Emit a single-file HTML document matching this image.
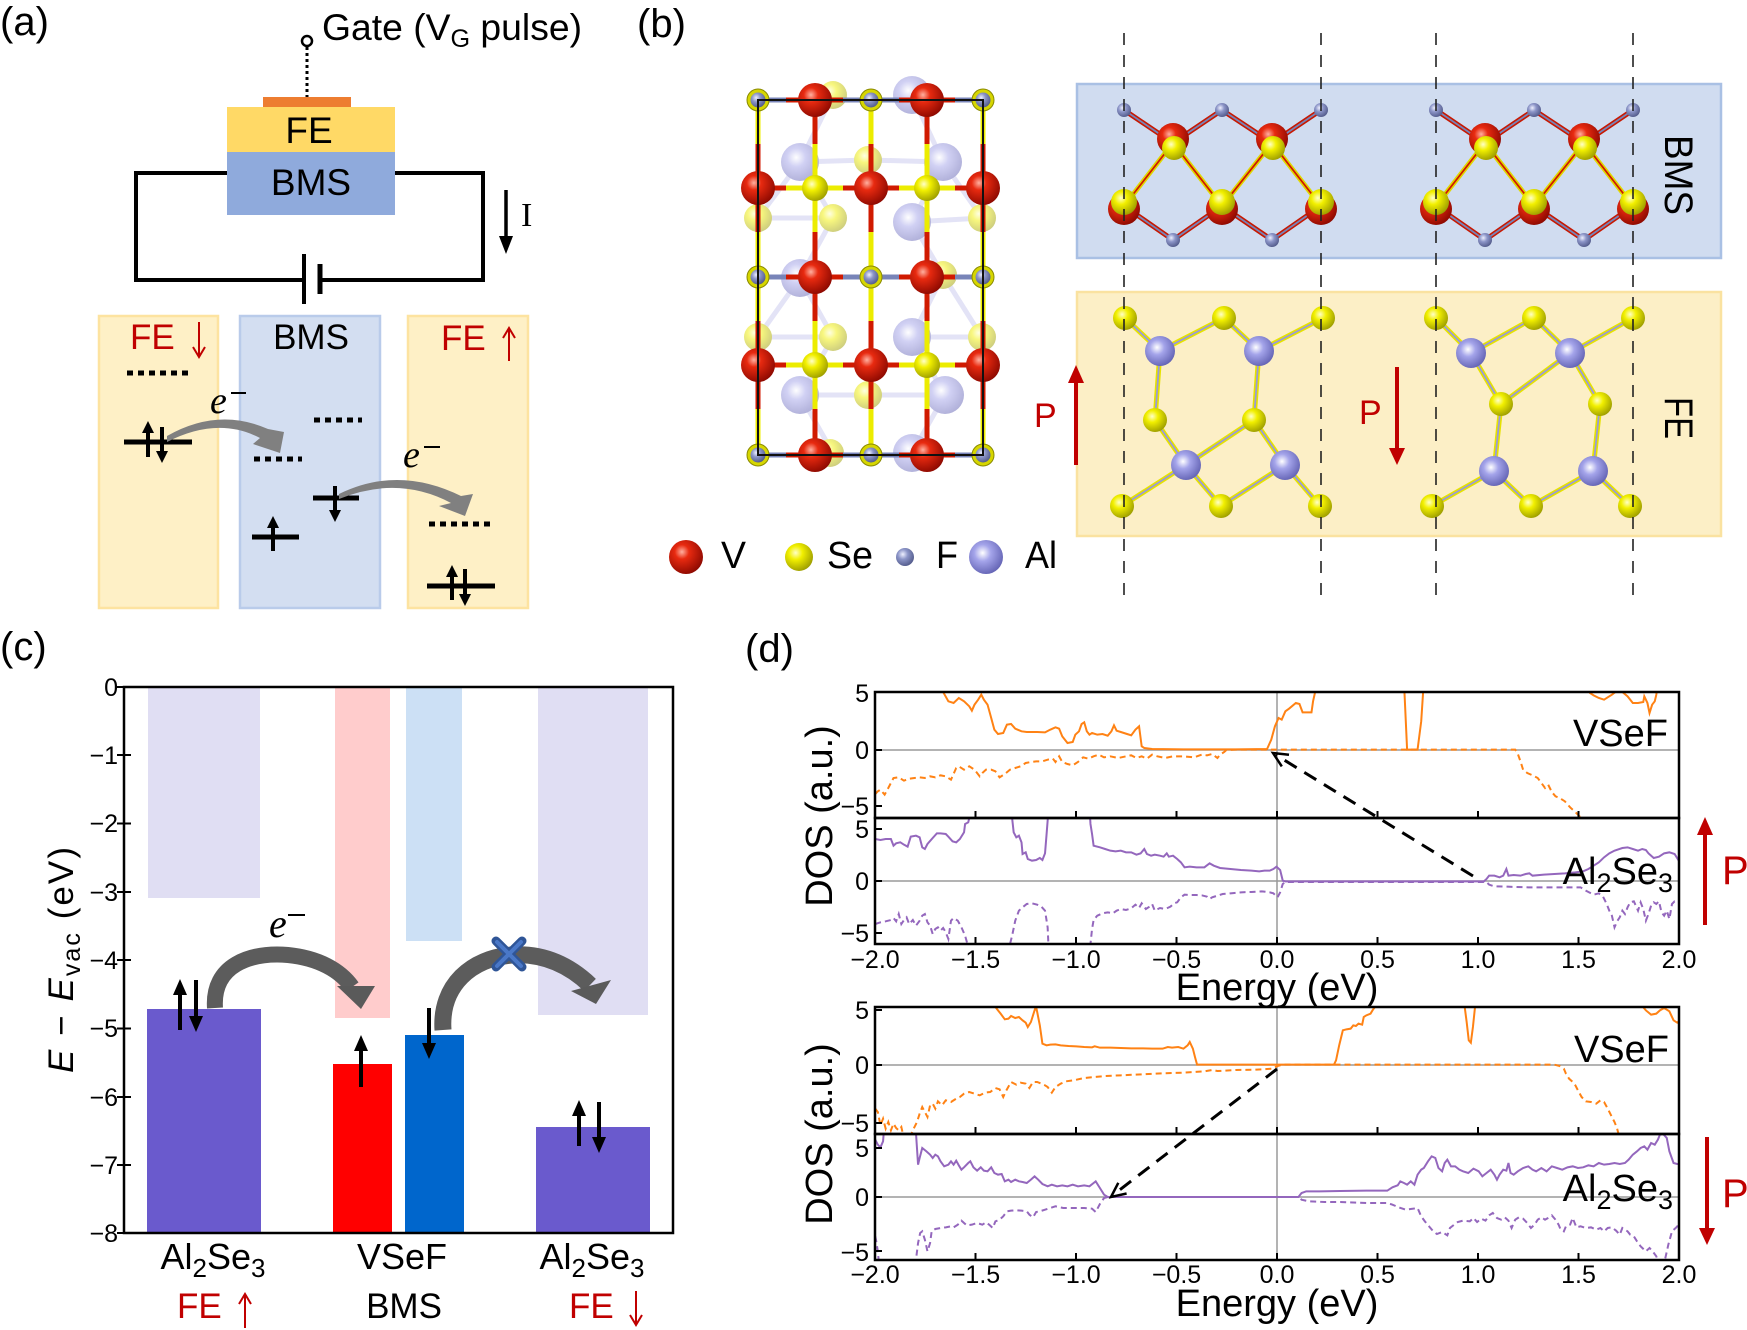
<!DOCTYPE html>
<html><head><meta charset="utf-8"><style>
html,body{margin:0;padding:0;background:#fff;}
svg{display:block;font-family:"Liberation Sans",Arial,sans-serif;}
</style></head><body>
<svg width="1747" height="1330" viewBox="0 0 1747 1330" xmlns="http://www.w3.org/2000/svg">
<defs>
<radialGradient id="gV" cx="0.38" cy="0.35" r="0.7"><stop offset="0" stop-color="#ffb0a0"/><stop offset="0.3" stop-color="#e82a10"/><stop offset="1" stop-color="#8a0800"/></radialGradient>
<radialGradient id="gSe" cx="0.38" cy="0.35" r="0.7"><stop offset="0" stop-color="#ffffc8"/><stop offset="0.35" stop-color="#f2f000"/><stop offset="1" stop-color="#9a9a00"/></radialGradient>
<radialGradient id="gF" cx="0.38" cy="0.35" r="0.7"><stop offset="0" stop-color="#eef0ff"/><stop offset="0.4" stop-color="#8c95c8"/><stop offset="1" stop-color="#505888"/></radialGradient>
<radialGradient id="gAl" cx="0.4" cy="0.38" r="0.7"><stop offset="0" stop-color="#ffffff"/><stop offset="0.35" stop-color="#a4a4ea"/><stop offset="1" stop-color="#5c5cae"/></radialGradient>
<clipPath id="c1"><rect x="875" y="692" width="804" height="126"/></clipPath>
<clipPath id="c2"><rect x="875" y="818" width="804" height="126"/></clipPath>
<clipPath id="c3"><rect x="875" y="1007" width="804" height="127"/></clipPath>
<clipPath id="c4"><rect x="875" y="1134" width="804" height="126"/></clipPath>
</defs>
<rect width="1747" height="1330" fill="#fff"/>

<!-- ================= PANEL A ================= -->
<text x="0" y="35" font-size="40">(a)</text>
<circle cx="307" cy="41" r="5" fill="#fff" stroke="#000" stroke-width="2.5"/>
<line x1="307" y1="47" x2="307" y2="97" stroke="#000" stroke-width="3" stroke-dasharray="3 3"/>
<text x="322" y="40" font-size="37" textLength="260" lengthAdjust="spacingAndGlyphs">Gate (V<tspan font-size="25" dy="7">G</tspan><tspan dy="-7"> pulse)</tspan></text>
<rect x="263" y="97" width="88" height="10" fill="#ED7D31"/>
<rect x="227" y="107" width="168" height="45" fill="#FFD966"/>
<rect x="227" y="152" width="168" height="63" fill="#8FAADC"/>
<text x="309" y="143" font-size="37" text-anchor="middle">FE</text>
<text x="311" y="195" font-size="37" text-anchor="middle">BMS</text>
<path d="M227,173 L136,173 L136,280 L304,280 M395,173 L483,173 L483,280 L320,280" fill="none" stroke="#000" stroke-width="4"/>
<line x1="304" y1="254" x2="304" y2="304" stroke="#000" stroke-width="4"/>
<line x1="320" y1="264" x2="320" y2="294" stroke="#000" stroke-width="5"/>
<line x1="506" y1="190" x2="506" y2="240" stroke="#000" stroke-width="3.5"/>
<polygon points="499,236 513,236 506,254" fill="#000"/>
<text x="521" y="226" font-size="34" font-family="Liberation Serif,serif">I</text>

<rect x="99" y="316" width="119" height="292" fill="#FEF0C6" stroke="#FDE3A0" stroke-width="2.5"/>
<rect x="240" y="316" width="140" height="292" fill="#D3DEF1" stroke="#B9CBEA" stroke-width="2.5"/>
<rect x="408" y="316" width="120" height="292" fill="#FEF0C6" stroke="#FDE3A0" stroke-width="2.5"/>
<text x="130" y="349" font-size="35" fill="#C00000">FE</text>
<line x1="199" y1="322" x2="199" y2="356" stroke="#C00000" stroke-width="2"/>
<polyline points="193,347 199,357 205,347" fill="none" stroke="#C00000" stroke-width="2"/>
<text x="311" y="349" font-size="35" text-anchor="middle">BMS</text>
<text x="441" y="350" font-size="35" fill="#C00000">FE</text>
<line x1="509" y1="328" x2="509" y2="361" stroke="#C00000" stroke-width="2"/>
<polyline points="503,338 509,328 515,338" fill="none" stroke="#C00000" stroke-width="2"/>

<g stroke="#000" stroke-width="5" stroke-dasharray="6 5" fill="none">
<line x1="127" y1="373" x2="193" y2="373"/>
<line x1="254" y1="459" x2="302" y2="459"/>
<line x1="314" y1="420" x2="362" y2="420"/>
<line x1="429" y1="524" x2="495" y2="524"/>
</g>
<g stroke="#000" stroke-width="5">
<line x1="124" y1="442" x2="192" y2="442"/>
<line x1="252" y1="537" x2="299" y2="537"/>
<line x1="313" y1="498" x2="359" y2="498"/>
<line x1="427" y1="586" x2="495" y2="586"/>
</g>
<g stroke="#000" stroke-width="4">
<line x1="148" y1="457" x2="148" y2="431"/><line x1="162" y1="427" x2="162" y2="453"/>
<line x1="273" y1="551" x2="273" y2="526"/><line x1="335" y1="486" x2="335" y2="512"/>
<line x1="452" y1="600" x2="452" y2="575"/><line x1="465" y1="569" x2="465" y2="596"/>
</g>
<g fill="#000">
<polygon points="142,433 154,433 148,421"/><polygon points="156,451 168,451 162,463"/>
<polygon points="267,528 279,528 273,516"/><polygon points="329,510 341,510 335,522"/>
<polygon points="446,577 458,577 452,565"/><polygon points="459,594 471,594 465,606"/>
</g>
<path d="M167,436 Q218,407 268,429 L284,432 L280,453 L253,444 L260,438 Q218,416 167,442 Z" fill="#808080"/>
<path d="M339,494 Q398,465 461,496 L473,494 L465,516 L439,506 L451,503 Q398,475 339,499 Z" fill="#808080"/>
<text x="210" y="413" font-size="38" font-style="italic" font-family="Liberation Serif,serif">e</text>
<line x1="231" y1="393" x2="246" y2="393" stroke="#000" stroke-width="2"/>
<text x="403" y="467" font-size="38" font-style="italic" font-family="Liberation Serif,serif">e</text>
<line x1="424" y1="447" x2="440" y2="447" stroke="#000" stroke-width="2"/>

<!-- ================= PANEL B ================= -->
<text x="637" y="37" font-size="40">(b)</text>
<g opacity="0.5">
<g stroke="#c8c8ee" stroke-width="5">
<line x1="800" y1="162" x2="868" y2="160"/><line x1="868" y1="160" x2="943" y2="162"/>
<line x1="758" y1="218" x2="833" y2="218"/><line x1="912" y1="222" x2="982" y2="218"/>
<line x1="800" y1="162" x2="758" y2="218"/><line x1="800" y1="162" x2="833" y2="218"/>
<line x1="943" y1="162" x2="912" y2="222"/><line x1="943" y1="162" x2="982" y2="218"/>
<line x1="833" y1="218" x2="800" y2="278"/><line x1="912" y1="222" x2="943" y2="275"/>
<line x1="800" y1="278" x2="758" y2="337"/><line x1="800" y1="278" x2="833" y2="337"/>
<line x1="943" y1="275" x2="912" y2="337"/><line x1="943" y1="275" x2="982" y2="337"/>
<line x1="758" y1="337" x2="833" y2="337"/><line x1="912" y1="337" x2="982" y2="337"/>
<line x1="833" y1="337" x2="800" y2="395"/><line x1="912" y1="337" x2="945" y2="395"/>
<line x1="800" y1="395" x2="868" y2="395"/><line x1="868" y1="395" x2="945" y2="395"/>
<line x1="800" y1="395" x2="833" y2="453"/><line x1="945" y1="395" x2="912" y2="453"/>
<line x1="833" y1="95" x2="800" y2="162"/><line x1="912" y1="95" x2="943" y2="162"/>
</g>
<g fill="url(#gAl)">
<circle cx="800" cy="162" r="19"/><circle cx="943" cy="162" r="19"/><circle cx="912" cy="222" r="19"/>
<circle cx="800" cy="278" r="19"/><circle cx="912" cy="337" r="19"/><circle cx="800" cy="395" r="19"/>
<circle cx="945" cy="395" r="19"/><circle cx="912" cy="95" r="19"/><circle cx="912" cy="453" r="19"/>
</g>
<g fill="url(#gSe)">
<circle cx="868" cy="160" r="14"/><circle cx="758" cy="218" r="14"/><circle cx="833" cy="218" r="14"/>
<circle cx="982" cy="218" r="14"/><circle cx="943" cy="275" r="14"/><circle cx="758" cy="337" r="14"/>
<circle cx="833" cy="337" r="14"/><circle cx="982" cy="337" r="14"/><circle cx="868" cy="395" r="14"/>
<circle cx="833" cy="95" r="14"/><circle cx="830" cy="453" r="14"/>
</g>
</g>
<g stroke-width="5">
<g stroke="#d01a00">
<line x1="815" y1="100" x2="815" y2="144"/><line x1="815" y1="232" x2="815" y2="321"/><line x1="815" y1="409" x2="815" y2="455"/>
<line x1="927" y1="100" x2="927" y2="144"/><line x1="927" y1="232" x2="927" y2="321"/><line x1="927" y1="409" x2="927" y2="455"/>
<line x1="871" y1="144" x2="871" y2="232"/><line x1="871" y1="321" x2="871" y2="409"/>
<line x1="758" y1="144" x2="758" y2="232"/><line x1="758" y1="321" x2="758" y2="409"/>
<line x1="983" y1="144" x2="983" y2="232"/><line x1="983" y1="321" x2="983" y2="409"/>
<line x1="758" y1="188" x2="786" y2="188"/><line x1="843" y1="188" x2="899" y2="188"/><line x1="955" y1="188" x2="983" y2="188"/>
<line x1="758" y1="365" x2="786" y2="365"/><line x1="843" y1="365" x2="899" y2="365"/><line x1="955" y1="365" x2="983" y2="365"/>
<line x1="786" y1="100" x2="843" y2="100"/><line x1="899" y1="100" x2="955" y2="100"/>
<line x1="786" y1="277" x2="843" y2="277"/><line x1="899" y1="277" x2="955" y2="277"/>
<line x1="786" y1="455" x2="843" y2="455"/><line x1="899" y1="455" x2="955" y2="455"/>
</g>
<g stroke="#ecec00">
<line x1="815" y1="144" x2="815" y2="232"/><line x1="815" y1="321" x2="815" y2="409"/>
<line x1="927" y1="144" x2="927" y2="232"/><line x1="927" y1="321" x2="927" y2="409"/>
<line x1="871" y1="100" x2="871" y2="144"/><line x1="871" y1="232" x2="871" y2="321"/><line x1="871" y1="409" x2="871" y2="455"/>
<line x1="758" y1="100" x2="758" y2="144"/><line x1="758" y1="232" x2="758" y2="321"/><line x1="758" y1="409" x2="758" y2="455"/>
<line x1="983" y1="100" x2="983" y2="144"/><line x1="983" y1="232" x2="983" y2="321"/><line x1="983" y1="409" x2="983" y2="455"/>
<line x1="786" y1="188" x2="843" y2="188"/><line x1="899" y1="188" x2="955" y2="188"/>
<line x1="786" y1="365" x2="843" y2="365"/><line x1="899" y1="365" x2="955" y2="365"/>
</g>
<g stroke="#7884b8">
<line x1="758" y1="100" x2="786" y2="100"/><line x1="843" y1="100" x2="899" y2="100"/><line x1="955" y1="100" x2="983" y2="100"/>
<line x1="758" y1="277" x2="786" y2="277"/><line x1="843" y1="277" x2="899" y2="277"/><line x1="955" y1="277" x2="983" y2="277"/>
<line x1="758" y1="455" x2="786" y2="455"/><line x1="843" y1="455" x2="899" y2="455"/><line x1="955" y1="455" x2="983" y2="455"/>
</g>
</g>
<g>
<g fill="#d6d600" stroke="#8a8a00" stroke-width="1">
<circle cx="758" cy="100" r="11"/><circle cx="871" cy="100" r="11"/><circle cx="983" cy="100" r="11"/>
<circle cx="758" cy="277" r="11"/><circle cx="871" cy="277" r="11"/><circle cx="983" cy="277" r="11"/>
<circle cx="758" cy="455" r="11"/><circle cx="871" cy="455" r="11"/><circle cx="983" cy="455" r="11"/>
</g>
<g fill="url(#gF)">
<circle cx="758" cy="100" r="7.5"/><circle cx="871" cy="100" r="7.5"/><circle cx="983" cy="100" r="7.5"/>
<circle cx="758" cy="277" r="7.5"/><circle cx="871" cy="277" r="7.5"/><circle cx="983" cy="277" r="7.5"/>
<circle cx="758" cy="455" r="7.5"/><circle cx="871" cy="455" r="7.5"/><circle cx="983" cy="455" r="7.5"/>
</g>
<g fill="url(#gV)">
<circle cx="815" cy="100" r="17"/><circle cx="927" cy="100" r="17"/>
<circle cx="815" cy="277" r="17"/><circle cx="927" cy="277" r="17"/>
<circle cx="815" cy="455" r="17"/><circle cx="927" cy="455" r="17"/>
<circle cx="758" cy="188" r="17"/><circle cx="871" cy="188" r="17"/><circle cx="983" cy="188" r="17"/>
<circle cx="758" cy="365" r="17"/><circle cx="871" cy="365" r="17"/><circle cx="983" cy="365" r="17"/>
</g>
<g fill="url(#gSe)">
<circle cx="815" cy="188" r="13"/><circle cx="927" cy="188" r="13"/>
<circle cx="815" cy="365" r="13"/><circle cx="927" cy="365" r="13"/>
</g>
<rect x="758" y="100" width="225" height="355" fill="none" stroke="#111" stroke-width="2"/>
</g>

<rect x="1077" y="84" width="644" height="174" fill="#D0DCF0" stroke="#A9C0E4" stroke-width="2.5"/>
<rect x="1077" y="292" width="644" height="244" fill="#FCEFC6" stroke="#FAE2A0" stroke-width="2.5"/>
<text transform="translate(1665,175) rotate(90)" font-size="40" text-anchor="middle" textLength="80" lengthAdjust="spacingAndGlyphs">BMS</text>
<text transform="translate(1665,418) rotate(90)" font-size="40" text-anchor="middle" textLength="42" lengthAdjust="spacingAndGlyphs">FE</text>

<g id="bmsu">
<g stroke-width="5" fill="none">
<polyline points="1124,110 1173,143 1222,110 1272,143 1321,110" stroke="#c81800"/>
<polyline points="1124,206 1173,143 1222,206 1272,143 1321,206" stroke="#e0d800"/>
<polyline points="1124,206 1173,240 1222,206 1272,240 1321,206" stroke="#c81800"/>
</g>
<g stroke-width="1.8" fill="none">
<polyline points="1124,110 1173,143 1222,110 1272,143 1321,110" stroke="#7884b8"/>
<polyline points="1124,206 1173,143 1222,206 1272,143 1321,206" stroke="#d01a00"/>
<polyline points="1124,206 1173,240 1222,206 1272,240 1321,206" stroke="#7884b8"/>
</g>
<g fill="url(#gF)">
<circle cx="1124" cy="110" r="7"/><circle cx="1222" cy="110" r="7"/><circle cx="1321" cy="110" r="7"/>
<circle cx="1173" cy="240" r="7"/><circle cx="1272" cy="240" r="7"/>
</g>
<g fill="url(#gV)">
<circle cx="1173" cy="139" r="16"/><circle cx="1272" cy="139" r="16"/>
<circle cx="1124" cy="209" r="16"/><circle cx="1222" cy="209" r="16"/><circle cx="1321" cy="209" r="16"/>
</g>
<g fill="url(#gSe)">
<circle cx="1174" cy="148" r="12"/><circle cx="1273" cy="148" r="12"/>
<circle cx="1124" cy="202" r="13"/><circle cx="1222" cy="202" r="13"/><circle cx="1321" cy="202" r="13"/>
</g>
</g>
<use href="#bmsu" transform="translate(312,0)"/>

<g stroke-width="5" fill="none" stroke="#e6e200">
<polyline points="1125,318 1160,351 1224,318 1259,351 1323,318"/>
<polyline points="1160,351 1155,420 1186,465 1122,506"/>
<polyline points="1259,351 1254,420 1285,465 1221,506"/>
<line x1="1254" y1="420" x2="1186" y2="465"/><line x1="1186" y1="465" x2="1221" y2="506"/><line x1="1285" y1="465" x2="1320" y2="506"/>
<polyline points="1436,318 1471,353 1534,318 1570,353 1633,318"/>
<polyline points="1471,353 1501,404 1494,471 1432,506"/>
<polyline points="1570,353 1600,404 1593,471 1531,506"/>
<line x1="1570" y1="353" x2="1501" y2="404"/><line x1="1494" y1="471" x2="1531" y2="506"/><line x1="1593" y1="471" x2="1630" y2="506"/>
</g>
<g stroke-width="1.8" fill="none" stroke="#9a9ad8">
<polyline points="1125,318 1160,351 1224,318 1259,351 1323,318"/>
<polyline points="1160,351 1155,420 1186,465 1122,506"/>
<polyline points="1259,351 1254,420 1285,465 1221,506"/>
<line x1="1254" y1="420" x2="1186" y2="465"/><line x1="1186" y1="465" x2="1221" y2="506"/><line x1="1285" y1="465" x2="1320" y2="506"/>
<polyline points="1436,318 1471,353 1534,318 1570,353 1633,318"/>
<polyline points="1471,353 1501,404 1494,471 1432,506"/>
<polyline points="1570,353 1600,404 1593,471 1531,506"/>
<line x1="1570" y1="353" x2="1501" y2="404"/><line x1="1494" y1="471" x2="1531" y2="506"/><line x1="1593" y1="471" x2="1630" y2="506"/>
</g>
<g fill="url(#gSe)">
<circle cx="1125" cy="318" r="12"/><circle cx="1224" cy="318" r="12"/><circle cx="1323" cy="318" r="12"/>
<circle cx="1155" cy="420" r="12"/><circle cx="1254" cy="420" r="12"/>
<circle cx="1122" cy="506" r="12"/><circle cx="1221" cy="506" r="12"/><circle cx="1320" cy="506" r="12"/>
<circle cx="1436" cy="318" r="12"/><circle cx="1534" cy="318" r="12"/><circle cx="1633" cy="318" r="12"/>
<circle cx="1501" cy="404" r="12"/><circle cx="1600" cy="404" r="12"/>
<circle cx="1432" cy="506" r="12"/><circle cx="1531" cy="506" r="12"/><circle cx="1630" cy="506" r="12"/>
</g>
<g fill="url(#gAl)">
<circle cx="1160" cy="351" r="15"/><circle cx="1259" cy="351" r="15"/>
<circle cx="1186" cy="465" r="15"/><circle cx="1285" cy="465" r="15"/>
<circle cx="1471" cy="353" r="15"/><circle cx="1570" cy="353" r="15"/>
<circle cx="1494" cy="471" r="15"/><circle cx="1593" cy="471" r="15"/>
</g>
<g stroke="#222" stroke-width="1.6" stroke-dasharray="12 10">
<line x1="1124" y1="33" x2="1124" y2="596"/><line x1="1321" y1="33" x2="1321" y2="596"/>
<line x1="1436" y1="33" x2="1436" y2="596"/><line x1="1633" y1="33" x2="1633" y2="596"/>
</g>
<line x1="1076" y1="465" x2="1076" y2="380" stroke="#C00000" stroke-width="4"/>
<polygon points="1068,383 1084,383 1076,365" fill="#C00000"/>
<text x="1034" y="427" font-size="34" fill="#C00000">P</text>
<line x1="1397" y1="367" x2="1397" y2="450" stroke="#C00000" stroke-width="4"/>
<polygon points="1389,448 1405,448 1397,465" fill="#C00000"/>
<text x="1359" y="424" font-size="34" fill="#C00000">P</text>
<circle cx="686" cy="557" r="17" fill="url(#gV)"/>
<text x="721" y="568" font-size="38" textLength="25" lengthAdjust="spacingAndGlyphs">V</text>
<circle cx="799" cy="557" r="14" fill="url(#gSe)"/>
<text x="827" y="568" font-size="38" textLength="46" lengthAdjust="spacingAndGlyphs">Se</text>
<circle cx="905" cy="557" r="9" fill="url(#gF)"/>
<text x="936" y="568" font-size="38" textLength="22" lengthAdjust="spacingAndGlyphs">F</text>
<circle cx="986" cy="557" r="17" fill="url(#gAl)"/>
<text x="1025" y="568" font-size="38" textLength="32" lengthAdjust="spacingAndGlyphs">Al</text>

<!-- ================= PANEL C ================= -->
<text x="0" y="660" font-size="40">(c)</text>
<rect x="148" y="687" width="112" height="211" fill="#E0DEF3"/>
<rect x="147" y="1009" width="114" height="224" fill="#6A5ACD"/>
<rect x="335" y="687" width="55" height="331" fill="#FFCCCC"/>
<rect x="333" y="1064" width="59" height="169" fill="#FF0000"/>
<rect x="406" y="687" width="56" height="254" fill="#CCE0F5"/>
<rect x="405" y="1035" width="59" height="198" fill="#0066CC"/>
<rect x="538" y="687" width="110" height="328" fill="#E0DEF3"/>
<rect x="536" y="1127" width="114" height="106" fill="#6A5ACD"/>
<rect x="124" y="687" width="549" height="546" fill="none" stroke="#000" stroke-width="2.5"/>
<g stroke="#000" stroke-width="2">
<line x1="117" y1="687" x2="131" y2="687"/><line x1="117" y1="755" x2="131" y2="755"/>
<line x1="117" y1="823.5" x2="131" y2="823.5"/><line x1="117" y1="892" x2="131" y2="892"/>
<line x1="117" y1="960" x2="131" y2="960"/><line x1="117" y1="1028.5" x2="131" y2="1028.5"/>
<line x1="117" y1="1097" x2="131" y2="1097"/><line x1="117" y1="1165" x2="131" y2="1165"/>
<line x1="117" y1="1233" x2="131" y2="1233"/>
</g>
<g font-size="25" text-anchor="end">
<text x="118" y="696">0</text><text x="118" y="764">−1</text><text x="118" y="832">−2</text>
<text x="118" y="901">−3</text><text x="118" y="969">−4</text><text x="118" y="1037">−5</text>
<text x="118" y="1106">−6</text><text x="118" y="1174">−7</text><text x="118" y="1242">−8</text>
</g>
<text transform="translate(73,960) rotate(-90)" font-size="35" text-anchor="middle" textLength="226" lengthAdjust="spacing"><tspan font-style="italic">E</tspan> − <tspan font-style="italic">E</tspan><tspan font-size="25" dy="7">vac</tspan><tspan dy="-7"> (eV)</tspan></text>
<g stroke="#000" stroke-width="4">
<line x1="180" y1="1030" x2="180" y2="993"/><line x1="196" y1="980" x2="196" y2="1018"/>
<line x1="361" y1="1087" x2="361" y2="1049"/><line x1="429" y1="1008" x2="429" y2="1045"/>
<line x1="579" y1="1146" x2="579" y2="1114"/><line x1="599" y1="1102" x2="599" y2="1139"/>
</g>
<g fill="#000">
<polygon points="173,995 187,995 180,979"/><polygon points="189,1016 203,1016 196,1032"/>
<polygon points="354,1051 368,1051 361,1035"/><polygon points="422,1043 436,1043 429,1059"/>
<polygon points="572,1116 586,1116 579,1100"/><polygon points="592,1137 606,1137 599,1153"/>
</g>
<path d="M215,1008 C212,965 250,952 288,955 C318,958 340,970 352,987" fill="none" stroke="#5c5c5c" stroke-width="16"/>
<polygon points="337,986 375,986 361,1009" fill="#5a5a5a"/>
<path d="M443,1030 C440,985 472,958 512,955 C545,953 570,966 590,985" fill="none" stroke="#5c5c5c" stroke-width="17"/>
<polygon points="571,991 611,980 596,1004" fill="#5a5a5a"/>
<g stroke-linecap="round">
<line x1="496" y1="941" x2="522" y2="967" stroke="#2F5597" stroke-width="9"/>
<line x1="522" y1="941" x2="496" y2="967" stroke="#2F5597" stroke-width="9"/>
<line x1="497" y1="942" x2="521" y2="966" stroke="#4A78C8" stroke-width="4"/>
<line x1="521" y1="942" x2="497" y2="966" stroke="#4A78C8" stroke-width="4"/>
</g>
<text x="269" y="937" font-size="40" font-style="italic" font-family="Liberation Serif,serif">e</text>
<line x1="288" y1="915" x2="305" y2="915" stroke="#000" stroke-width="2"/>
<text x="213" y="1269" font-size="36" text-anchor="middle">Al<tspan font-size="26" dy="8">2</tspan><tspan dy="-8">Se</tspan><tspan font-size="26" dy="8">3</tspan></text>
<text x="402" y="1269" font-size="36" text-anchor="middle">VSeF</text>
<text x="592" y="1269" font-size="36" text-anchor="middle">Al<tspan font-size="26" dy="8">2</tspan><tspan dy="-8">Se</tspan><tspan font-size="26" dy="8">3</tspan></text>
<text x="177" y="1318" font-size="35" fill="#C00000">FE</text>
<line x1="245" y1="1294" x2="245" y2="1328" stroke="#C00000" stroke-width="2"/>
<polyline points="239,1304 245,1294 251,1304" fill="none" stroke="#C00000" stroke-width="2"/>
<text x="404" y="1318" font-size="35" text-anchor="middle">BMS</text>
<text x="569" y="1318" font-size="35" fill="#C00000">FE</text>
<line x1="636" y1="1291" x2="636" y2="1325" stroke="#C00000" stroke-width="2"/>
<polyline points="630,1315 636,1325 642,1315" fill="none" stroke="#C00000" stroke-width="2"/>

<!-- ================= PANEL D ================= -->
<text x="745" y="662" font-size="40">(d)</text>
<g stroke="#9a9a9a" stroke-width="1.5">
<line x1="875" y1="750" x2="1679" y2="750"/><line x1="875" y1="881" x2="1679" y2="881"/>
<line x1="875" y1="1065" x2="1679" y2="1065"/><line x1="875" y1="1197" x2="1679" y2="1197"/>
<line x1="1277" y1="692" x2="1277" y2="944"/><line x1="1277" y1="1007" x2="1277" y2="1260"/>
</g>
<g clip-path="url(#c1)"><g transform="translate(870,688) scale(0.52247,0.33333)" fill="none" stroke="#FF8214" stroke-width="2">
<polyline vector-effect="non-scaling-stroke" points="135,-20 140,12 150,40 160,45 170,30 180,40 190,55 195,68 200,50 207,35 213,20 218,35 225,50 232,90 238,125 245,138 255,135 262,110 270,108 278,122 290,130 300,132 320,132 335,133 345,125 355,118 362,122 368,145 378,165 388,162 393,140 400,130 405,108 410,103 415,130 420,140 425,135 435,140 445,138 455,143 462,130 467,112 472,128 480,132 492,138 500,142 508,125 515,115 520,175 525,180 540,183 600,184 700,184 760,183 768,155 775,115 782,90 788,95 795,70 802,62 815,45 822,48 828,73 845,73 848,40 852,12 854,-20 1022,-20 1028,185 1048,185 1055,100 1060,-20 1370,-20 1378,15 1385,22 1395,30 1405,35 1412,28 1420,20 1430,8 1440,12 1450,25 1460,45 1470,45 1480,42 1482,25 1488,45 1492,75 1497,50 1502,40 1505,20 1508,-20"/>
<polyline vector-effect="non-scaling-stroke" stroke-dasharray="6 4" points="10,318 15,310 20,305 28,320 35,300 45,270 55,268 65,278 75,272 85,270 95,268 105,270 115,265 125,268 135,262 145,265 155,275 165,240 170,235 180,245 190,235 200,245 210,265 215,255 222,245 232,245 240,250 248,268 258,258 268,245 278,240 288,235 298,225 308,222 318,220 330,220 340,215 350,212 355,222 362,205 368,222 378,228 388,232 398,222 408,208 418,212 428,205 438,200 448,208 460,205 475,210 490,205 500,202 510,210 520,205 530,212 540,200 550,205 565,210 580,205 600,205 620,208 635,200 645,202 655,198 665,210 670,200 678,192 682,186 700,185 1235,185 1240,198 1245,220 1250,245 1258,255 1268,262 1278,270 1285,285 1292,300 1298,290 1305,312 1312,325 1320,330 1330,340 1340,358 1350,372 1358,385 1362,400"/>
</g></g>
<g clip-path="url(#c2)"><g transform="translate(870,814) scale(0.52247,0.33333)" fill="none" stroke="#9467BD" stroke-width="2">
<polyline vector-effect="non-scaling-stroke" points="10,75 20,78 30,75 40,75 45,95 50,88 58,85 65,92 72,98 78,68 88,65 95,70 100,100 105,105 110,90 120,72 128,58 135,58 145,60 150,68 158,82 165,85 172,75 180,55 182,30 188,25 190,12 192,-20 268,-20 272,12 275,55 280,70 285,65 290,85 292,120 298,115 302,135 310,140 318,138 325,132 330,138 335,118 338,60 340,20 342,-20 420,-20 422,30 425,60 428,95 440,100 450,105 460,110 470,112 480,110 490,115 500,115 510,122 518,118 525,105 530,120 538,125 545,122 555,125 562,128 568,118 572,128 580,125 588,135 595,145 602,160 612,158 625,160 640,160 650,148 658,155 670,162 690,165 710,168 730,170 745,172 755,170 765,170 772,165 778,158 785,168 790,200 795,202 1000,202 1175,202 1180,195 1185,185 1195,185 1205,190 1212,185 1218,165 1222,185 1232,183 1245,185 1255,180 1262,178 1268,185 1290,182 1310,180 1330,178 1350,175 1365,172 1375,165 1385,155 1395,145 1405,130 1415,118 1425,110 1440,102 1450,100 1460,105 1470,110 1478,105 1485,108 1490,118 1500,132 1510,128 1520,118 1530,115 1540,120 1548,140 1556,150"/>
<polyline vector-effect="non-scaling-stroke" stroke-dasharray="6 4" points="10,330 20,325 30,322 40,318 45,312 50,322 55,300 60,330 65,318 70,310 75,330 82,318 88,335 95,320 100,305 105,300 110,325 115,335 120,360 125,345 130,340 135,350 140,342 145,355 150,375 155,320 160,312 168,320 175,340 182,365 190,410 262,410 268,390 272,365 278,320 285,290 292,280 300,270 310,268 320,272 328,278 335,290 340,340 342,410 420,410 422,390 425,345 428,318 435,305 445,298 455,295 465,298 472,290 480,285 490,288 500,283 508,272 515,282 520,268 528,285 535,278 540,270 545,290 555,282 565,285 575,278 582,268 588,265 595,250 602,242 615,243 625,243 635,244 645,248 650,255 655,250 665,245 675,240 690,238 710,235 730,234 750,232 765,235 772,238 780,250 785,235 790,210 795,204 1180,204 1185,212 1195,217 1220,218 1260,220 1300,220 1340,220 1360,220 1370,230 1385,242 1395,238 1403,248 1410,270 1415,290 1420,305 1425,340 1430,322 1435,310 1440,290 1445,300 1450,280 1455,265 1462,262 1470,290 1475,265 1480,285 1485,320 1490,300 1495,275 1500,265 1505,270 1510,262 1515,295 1520,305 1525,290 1530,315 1535,270 1540,262 1556,265"/>
</g></g>
<g clip-path="url(#c3)"><g transform="translate(870,1002) scale(0.52247,0.33333)" fill="none" stroke="#FF8214" stroke-width="2">
<polyline vector-effect="non-scaling-stroke" points="236,-20 240,15 245,25 250,35 258,52 265,50 270,42 278,48 285,45 292,55 298,62 302,75 308,60 312,40 316,20 318,15 320,30 325,70 330,125 338,130 345,128 355,127 365,130 380,132 395,133 410,135 425,136 430,133 440,137 460,137 480,138 500,139 520,139 540,140 560,140 570,135 578,137 590,135 600,140 608,130 612,120 618,140 622,165 626,188 640,188 888,188 892,175 898,130 905,85 912,82 920,80 925,70 930,72 935,65 942,68 945,45 950,40 958,35 963,22 968,12 972,-20 1135,-20 1138,12 1142,60 1146,115 1150,122 1154,75 1158,15 1160,-20 1475,-20 1478,12 1485,25 1495,38 1505,35 1512,25 1520,18 1530,28 1538,55 1545,62 1550,55 1556,40"/>
<polyline vector-effect="non-scaling-stroke" stroke-dasharray="6 4" points="10,320 15,330 20,370 25,350 30,380 35,360 40,385 45,365 50,378 55,385 60,375 65,410 76,410 82,385 90,360 95,335 100,315 105,330 110,345 115,310 120,305 125,320 130,298 138,310 145,295 155,300 165,290 172,285 180,275 190,270 200,275 210,280 220,272 230,270 240,258 248,262 255,285 260,268 270,240 280,248 288,242 298,245 305,258 312,240 320,240 328,245 335,250 340,255 348,272 355,255 365,245 375,238 390,235 410,228 430,225 450,222 480,220 520,217 560,214 600,212 640,208 655,204 665,207 680,206 700,204 740,203 770,200 780,192 790,188 1310,188 1320,192 1328,200 1332,215 1338,230 1345,240 1350,250 1355,265 1362,285 1370,298 1380,300 1390,305 1398,295 1405,300 1412,320 1420,345 1425,360 1430,380 1435,410"/>
</g></g>
<g clip-path="url(#c4)"><g transform="translate(870,1128) scale(0.52247,0.33333)" fill="none" stroke="#9467BD" stroke-width="2">
<polyline vector-effect="non-scaling-stroke" points="10,35 15,50 20,58 25,40 28,-20 86,-20 88,15 92,110 95,90 100,60 108,70 115,80 120,90 125,80 130,85 135,100 142,115 150,110 155,100 160,110 165,98 170,112 175,125 180,118 188,105 192,100 198,118 205,128 212,118 218,128 225,130 232,118 238,135 245,140 252,138 258,160 265,155 270,162 278,155 285,160 292,162 300,165 308,155 315,145 322,155 330,168 340,175 348,170 358,175 368,172 378,175 388,170 398,175 410,172 420,175 428,165 432,160 440,180 448,200 455,207 820,207 826,195 835,190 860,190 900,189 950,188 990,188 1000,178 1010,172 1015,160 1022,165 1028,170 1035,160 1042,170 1048,140 1055,125 1060,120 1068,100 1075,85 1082,90 1088,120 1095,130 1100,105 1105,95 1112,115 1120,115 1128,125 1135,130 1145,135 1155,122 1165,130 1172,145 1180,135 1188,125 1195,140 1200,155 1205,140 1212,125 1218,128 1222,105 1226,135 1232,140 1240,130 1250,120 1260,115 1268,125 1275,130 1285,120 1295,130 1305,115 1315,120 1325,125 1335,118 1345,115 1355,120 1365,118 1375,112 1385,115 1395,105 1405,110 1415,108 1425,105 1435,108 1445,105 1452,95 1460,80 1468,70 1475,60 1482,55 1488,65 1495,45 1502,50 1508,35 1512,20 1518,18 1525,30 1530,70 1538,105 1545,108 1556,108"/>
<polyline vector-effect="non-scaling-stroke" stroke-dasharray="6 4" points="10,325 12,340 15,370 18,420 86,420 88,395 92,345 96,315 100,310 105,335 110,370 115,345 118,310 125,303 135,300 145,298 155,295 160,298 168,290 175,278 180,285 185,292 195,290 205,285 215,290 222,283 228,290 235,300 240,280 248,275 255,265 262,250 270,248 280,247 290,248 300,250 305,260 312,268 318,252 325,250 335,245 345,240 355,235 370,240 390,240 410,240 425,242 432,252 440,228 448,210 455,207 820,207 826,215 840,220 870,222 900,222 950,225 990,225 1000,230 1012,238 1025,245 1040,242 1048,240 1055,265 1062,280 1070,295 1078,310 1085,318 1095,312 1105,322 1110,300 1118,290 1125,282 1135,278 1148,280 1155,270 1162,282 1170,272 1178,278 1185,262 1192,255 1200,270 1208,275 1215,268 1222,278 1228,300 1235,275 1242,268 1250,272 1258,285 1265,300 1272,290 1278,275 1285,268 1292,275 1300,268 1305,262 1312,275 1318,290 1322,305 1328,310 1332,295 1340,290 1345,270 1352,298 1360,295 1370,300 1380,298 1390,305 1398,300 1405,310 1412,300 1420,298 1428,308 1435,320 1440,300 1445,305 1450,310 1455,320 1462,325 1468,340 1475,355 1485,370 1492,360 1498,370 1505,385 1512,420 1518,420 1528,350 1535,310 1542,300 1548,290 1556,285"/>
</g></g>
<g fill="none" stroke="#000" stroke-width="2.5">
<rect x="875" y="692" width="804" height="126"/><rect x="875" y="818" width="804" height="126"/>
<rect x="875" y="1007" width="804" height="127"/><rect x="875" y="1134" width="804" height="126"/>
</g>
<g stroke="#000" stroke-width="2">
<path d="M975.5,818 v-7 M1076,818 v-7 M1176.5,818 v-7 M1277,818 v-7 M1377.5,818 v-7 M1478,818 v-7 M1578.5,818 v-7"/>
<path d="M975.5,944 v-7 M1076,944 v-7 M1176.5,944 v-7 M1277,944 v-7 M1377.5,944 v-7 M1478,944 v-7 M1578.5,944 v-7"/>
<path d="M975.5,1134 v-7 M1076,1134 v-7 M1176.5,1134 v-7 M1277,1134 v-7 M1377.5,1134 v-7 M1478,1134 v-7 M1578.5,1134 v-7"/>
<path d="M975.5,1260 v-7 M1076,1260 v-7 M1176.5,1260 v-7 M1277,1260 v-7 M1377.5,1260 v-7 M1478,1260 v-7 M1578.5,1260 v-7"/>
<path d="M875,750 h7 M875,806 h7 M875,829 h7 M875,881 h7 M875,933 h7 M875,1010 h7 M875,1065 h7 M875,1123 h7 M875,1148 h7 M875,1197 h7 M875,1251 h7"/>
</g>
<g font-size="25" text-anchor="end">
<text x="869" y="702">5</text><text x="869" y="759">0</text><text x="869" y="815">−5</text>
<text x="869" y="838">5</text><text x="869" y="890">0</text><text x="869" y="942">−5</text>
<text x="869" y="1019">5</text><text x="869" y="1074">0</text><text x="869" y="1132">−5</text>
<text x="869" y="1157">5</text><text x="869" y="1206">0</text><text x="869" y="1261">−5</text>
</g>
<g font-size="25" text-anchor="middle">
<text x="875" y="968">−2.0</text><text x="975.5" y="968">−1.5</text><text x="1076" y="968">−1.0</text><text x="1176.5" y="968">−0.5</text><text x="1277" y="968">0.0</text><text x="1377.5" y="968">0.5</text><text x="1478" y="968">1.0</text><text x="1578.5" y="968">1.5</text><text x="1679" y="968">2.0</text>
<text x="875" y="1283">−2.0</text><text x="975.5" y="1283">−1.5</text><text x="1076" y="1283">−1.0</text><text x="1176.5" y="1283">−0.5</text><text x="1277" y="1283">0.0</text><text x="1377.5" y="1283">0.5</text><text x="1478" y="1283">1.0</text><text x="1578.5" y="1283">1.5</text><text x="1679" y="1283">2.0</text>
</g>
<text x="1277" y="1000" font-size="38" text-anchor="middle">Energy (eV)</text>
<text x="1277" y="1316" font-size="38" text-anchor="middle">Energy (eV)</text>
<text transform="translate(832,816) rotate(-90)" font-size="38" text-anchor="middle">DOS (a.u.)</text>
<text transform="translate(832,1134) rotate(-90)" font-size="38" text-anchor="middle">DOS (a.u.)</text>
<g font-size="38" text-anchor="end">
<text x="1668" y="746">VSeF</text>
<text x="1673" y="884">Al<tspan font-size="27" dy="8">2</tspan><tspan dy="-8">Se</tspan><tspan font-size="27" dy="8">3</tspan></text>
<text x="1669" y="1062">VSeF</text>
<text x="1673" y="1201">Al<tspan font-size="27" dy="8">2</tspan><tspan dy="-8">Se</tspan><tspan font-size="27" dy="8">3</tspan></text>
</g>
<line x1="1473" y1="876" x2="1276" y2="755" stroke="#000" stroke-width="3" stroke-dasharray="14 9"/>
<polyline points="1281.8,766.4 1273,753 1289,754.8" fill="none" stroke="#000" stroke-width="2.5"/>
<line x1="1277" y1="1069" x2="1113" y2="1195" stroke="#000" stroke-width="3" stroke-dasharray="14 9"/>
<polyline points="1126.6,1193.5 1111,1197 1118.3,1182.8" fill="none" stroke="#000" stroke-width="2.5"/>
<line x1="1705" y1="925" x2="1705" y2="832" stroke="#C00000" stroke-width="4"/>
<polygon points="1697,835 1713,835 1705,817" fill="#C00000"/>
<text x="1722" y="884" font-size="40" fill="#C00000">P</text>
<line x1="1707" y1="1137" x2="1707" y2="1230" stroke="#C00000" stroke-width="4"/>
<polygon points="1699,1228 1715,1228 1707,1245" fill="#C00000"/>
<text x="1722" y="1207" font-size="40" fill="#C00000">P</text>
</svg>
</body></html>
